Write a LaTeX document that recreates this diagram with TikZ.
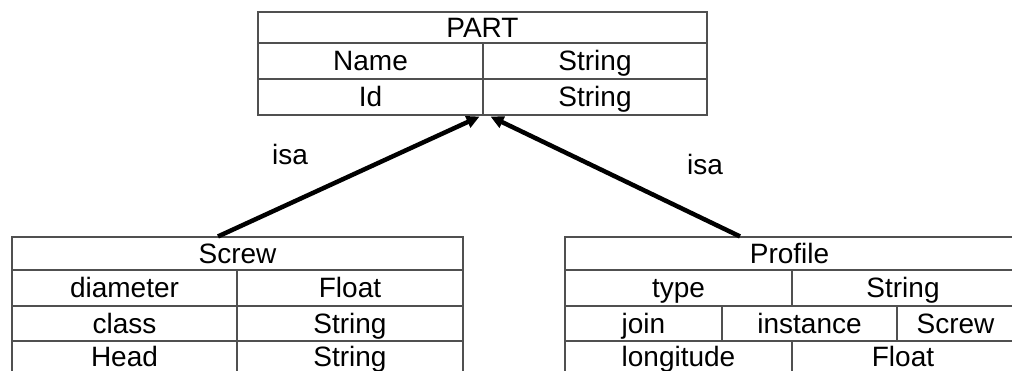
\documentclass[tikz,border=0pt]{standalone}
\usepackage{fontspec}
\setmainfont{Liberation Sans}
\usetikzlibrary{arrows.meta,calc}
\definecolor{linegray}{HTML}{505050}
\begin{document}
\begin{tikzpicture}[x=1pt,y=1pt,
  cell/.style={draw=linegray, line width=1.1pt, inner sep=0pt, minimum height=36pt,
    text height=20pt, text depth=0pt, font=\fontsize{28}{28}\selectfont},
  isalink/.style={line width=4.5pt, -{Triangle[length=13pt,width=12pt]}},
  lbl/.style={font=\fontsize{28}{28}\selectfont, inner sep=0pt, text height=20pt, text depth=0pt}
]
\useasboundingbox (0,0) rectangle (1012,371);
\clip (0,0) rectangle (1012,371);
% PART table
\node[cell, minimum width=449pt, minimum height=31pt] (partT) at (482.5,343.5) {PART};
\node[cell, minimum width=225pt] (partN) at (370.5,310) {Name};
\node[cell, minimum width=224pt] (partNT) at (595,310) {String};
\node[cell, minimum width=225pt] (partI) at (370.5,274) {Id};
\node[cell, minimum width=224pt] (partIT) at (595,274) {String};
% Screw table
\node[cell, minimum width=451pt, minimum height=33pt] (screwT) at (237.5,117.5) {Screw};
\node[cell, minimum width=225pt] (screwD) at (124.5,83) {diameter};
\node[cell, minimum width=226pt] (screwDT) at (350,83) {Float};
\node[cell, minimum width=225pt, minimum height=35pt] (screwC) at (124.5,47.5) {class};
\node[cell, minimum width=226pt, minimum height=35pt] (screwCT) at (350,47.5) {String};
\node[cell, minimum width=225pt, minimum height=31pt] (screwH) at (124.5,14.5) {Head};
\node[cell, minimum width=226pt, minimum height=31pt] (screwHT) at (350,14.5) {String};
% Profile table
\node[cell, minimum width=449pt, minimum height=33pt] (profT) at (789.5,117.5) {Profile};
\node[cell, minimum width=227pt] (profTy) at (678.5,83) {type};
\node[cell, minimum width=222pt] (profTyT) at (903,83) {String};
\node[cell, minimum width=157pt, minimum height=35pt] (profJ) at (643.5,47.5) {join};
\node[cell, minimum width=175pt, minimum height=35pt] (profI) at (809.5,47.5) {instance};
\node[cell, minimum width=117pt, minimum height=35pt] (profS) at (955.5,47.5) {Screw};
\node[cell, minimum width=227pt, minimum height=31pt] (profL) at (678.5,14.5) {longitude};
\node[cell, minimum width=222pt, minimum height=31pt] (profLT) at (903,14.5) {Float};
% connectors
\coordinate (s1) at ($(screwT.north)+(-19.5,0)$);
\coordinate (p1) at ($(profT.north)+(-49.5,0)$);
\coordinate (t1) at ($(partI.south east)+(-4,-1)$);
\coordinate (t2) at ($(partI.south east)+(7,-1)$);
\draw[isalink] (s1) -- (t1);
\draw[isalink] (p1) -- (t2);
\node[lbl] (isa1) at (290,216) {isa};
\node[lbl] (isa2) at (705,206) {isa};
\end{tikzpicture}
\end{document}
